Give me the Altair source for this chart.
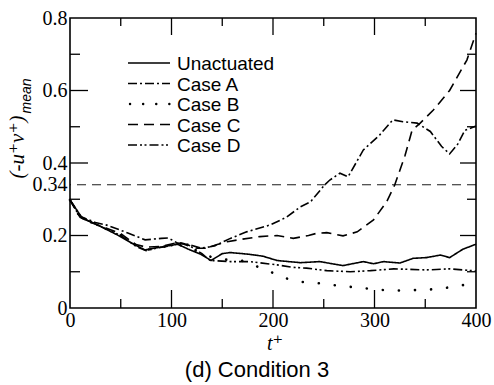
import altair as alt
import pandas as pd

# ---------------- data ----------------
t_unact = [0, 11, 21, 31, 47, 64, 74, 83, 96, 106, 116, 129, 139, 150, 158, 177, 190, 204, 227, 246, 269, 289, 299, 309, 325, 338, 351, 365, 374, 387, 400]
v_unact = [0.298, 0.252, 0.236, 0.224, 0.201, 0.174, 0.160, 0.165, 0.171, 0.176, 0.163, 0.148, 0.131, 0.150, 0.153, 0.148, 0.143, 0.131, 0.125, 0.128, 0.117, 0.128, 0.122, 0.128, 0.124, 0.137, 0.139, 0.146, 0.139, 0.162, 0.176]

t_a = [0, 11, 25, 37, 57, 74, 90, 97, 106, 116, 129, 138, 143, 158, 174, 197, 213, 227, 237, 251, 256, 266, 274, 289, 305, 318, 328, 342, 355, 366, 374, 382, 389, 400]
v_a = [0.298, 0.252, 0.236, 0.228, 0.207, 0.188, 0.192, 0.193, 0.179, 0.176, 0.165, 0.169, 0.172, 0.192, 0.210, 0.229, 0.250, 0.279, 0.293, 0.340, 0.353, 0.372, 0.362, 0.436, 0.477, 0.519, 0.514, 0.510, 0.487, 0.446, 0.425, 0.452, 0.490, 0.502]

t_b = [0, 10, 30, 50, 70, 75, 90, 105, 115, 130, 140, 150, 168, 183, 199, 214, 232, 249, 265, 282, 299, 316, 333, 350, 367, 384, 395]
v_b = [0.298, 0.250, 0.225, 0.200, 0.165, 0.160, 0.168, 0.175, 0.170, 0.150, 0.140, 0.134, 0.132, 0.116, 0.098, 0.081, 0.070, 0.068, 0.061, 0.057, 0.052, 0.048, 0.049, 0.050, 0.054, 0.062, 0.066]

t_c = [0, 10, 30, 50, 65, 75, 90, 105, 112, 125, 135, 145, 155, 170, 187, 204, 220, 235, 243, 253, 269, 283, 299, 312, 320, 330, 337, 345, 358, 374, 391, 400]
v_c = [0.298, 0.250, 0.226, 0.205, 0.175, 0.168, 0.170, 0.180, 0.178, 0.165, 0.165, 0.175, 0.183, 0.190, 0.197, 0.200, 0.192, 0.200, 0.206, 0.208, 0.199, 0.210, 0.243, 0.293, 0.340, 0.420, 0.490, 0.510, 0.546, 0.600, 0.684, 0.758]

t_d = [0, 10, 30, 50, 65, 75, 85, 100, 108, 120, 130, 138, 158, 177, 204, 220, 233, 253, 276, 296, 319, 351, 374, 400]
v_d = [0.298, 0.250, 0.225, 0.200, 0.170, 0.158, 0.165, 0.172, 0.180, 0.168, 0.150, 0.131, 0.128, 0.128, 0.119, 0.112, 0.110, 0.103, 0.100, 0.103, 0.108, 0.105, 0.108, 0.102]

series_names = ["Unactuated", "Case A", "Case B", "Case C", "Case D"]
ref_value = [0.34]

x_label_values = [0, 100, 200, 300, 400]
y_label_values = [0, 0.2, 0.34, 0.4, 0.6, 0.8]
x_long_ticks = [100, 200, 300]
x_short_ticks = [50, 150, 250, 350]
y_long_ticks = [0.2, 0.4, 0.6]
y_short_ticks = [0.1, 0.3, 0.5, 0.7]

# ---------------- build tables ----------------
rows = []
for name, ts, vs in [("Unactuated", t_unact, v_unact), ("Case A", t_a, v_a),
                     ("Case B", t_b, v_b), ("Case C", t_c, v_c), ("Case D", t_d, v_d)]:
    for t, v in zip(ts, vs):
        rows.append({"series": name, "t": t, "v": v})
df = pd.DataFrame(rows)

dashes = {
    "Unactuated": [1, 0],
    "Case A": [9, 3, 2, 3],
    "Case B": [0.1, 16],
    "Case C": [10, 6],
    "Case D": [9, 3, 2, 2.5, 2, 3],
}

W, H = 406, 290
XMAX, YMAX = 400, 0.8
xs = alt.Scale(domain=[0, XMAX], nice=False, zero=False)
ys = alt.Scale(domain=[0, YMAX], nice=False, zero=False)

serif = "Liberation Serif, Times New Roman, DejaVu Serif, serif"
sans = "Liberation Sans, Arial, sans-serif"

base_x = alt.X("t:Q", scale=xs,
               axis=alt.Axis(values=x_label_values, format="d", domain=False, ticks=False, grid=False,
                             labelFont=serif, labelFontSize=20, labelColor="black", labelPadding=2,
                             labelFlush=False, labelOverlap=False, title=None))
base_y = alt.Y("v:Q", scale=ys,
               axis=alt.Axis(values=y_label_values, domain=False, ticks=False, grid=False,
                             labelFont=serif, labelFontSize=20, labelColor="black", labelPadding=3,
                             labelFlush=False, labelOverlap=False,
                             labelExpr="datum.value == 0 ? '0' : format(datum.value, '.2~f')",
                             title=None))

layers = []
for name in series_names:
    sub = df[df.series == name]
    if name == "Case B":
        m = alt.Chart(sub).mark_line(color="black", strokeWidth=2.6, strokeDash=dashes[name], strokeCap="round")
    else:
        m = alt.Chart(sub).mark_line(color="black", strokeWidth=1.6, strokeDash=dashes[name])
    layers.append(m.encode(x=base_x, y=base_y, order="t:Q"))

ref = alt.Chart(pd.DataFrame({"v": ref_value})).mark_rule(
    color="black", strokeWidth=0.9, strokeDash=[9, 6]).encode(y=alt.Y("v:Q", scale=ys))
layers.append(ref)

# inward ticks (lengths given in pixels, converted to data units)
def px_x(p):
    return p * XMAX / W

def px_y(p):
    return p * YMAX / H

def xt(vals, length, top):
    d = pd.DataFrame({"t": vals})
    if top:
        y0, y1 = YMAX, YMAX - px_y(length)
    else:
        y0, y1 = 0, px_y(length)
    return alt.Chart(d).mark_rule(color="black", strokeWidth=1.3).encode(
        x=alt.X("t:Q", scale=xs), y=alt.datum(y0), y2=alt.datum(y1))

def yt(vals, length, right):
    d = pd.DataFrame({"v": vals})
    if right:
        x0, x1 = XMAX, XMAX - px_x(length)
    else:
        x0, x1 = 0, px_x(length)
    return alt.Chart(d).mark_rule(color="black", strokeWidth=1.3).encode(
        y=alt.Y("v:Q", scale=ys), x=alt.datum(x0), x2=alt.datum(x1))

layers += [xt(x_long_ticks, 18, False), xt(x_short_ticks, 9, False),
           xt(x_long_ticks, 17, True), xt(x_short_ticks, 8, True),
           yt(y_long_ticks, 18, False), yt(y_short_ticks, 10, False),
           yt(y_long_ticks, 16, True), yt(y_short_ticks, 9, True)]

# legend (manual)
for i, name in enumerate(series_names):
    yy = 45 + 20.5 * i
    one = pd.DataFrame({"series": [name]})
    if name == "Case B":
        ln = alt.Chart(one).mark_rule(color="black", strokeWidth=2.4, strokeDash=[0.1, 13],
                                      strokeCap="round", strokeDashOffset=-2)
    else:
        ln = alt.Chart(one).mark_rule(color="black", strokeWidth=1.5, strokeDash=dashes[name])
    layers.append(ln.encode(x=alt.value(58), x2=alt.value(100), y=alt.value(yy)))
    layers.append(alt.Chart(one).mark_text(align="left", baseline="middle", font=sans, fontSize=19,
                                           color="black").encode(
        x=alt.value(107), y=alt.value(yy + 1), text="series:N"))

# axis titles and caption
lbl = pd.DataFrame({"txt": ["(-u\u207av\u207a)"]})
layers.append(alt.Chart(lbl).mark_text(angle=270, font=serif, fontStyle="italic", fontSize=21,
                                       align="center", baseline="middle", color="black").encode(
    x=alt.value(-52), y=alt.value(129), text="txt:N"))
sub_lbl = pd.DataFrame({"txt": ["mean"]})
layers.append(alt.Chart(sub_lbl).mark_text(angle=270, font=sans, fontStyle="italic", fontSize=14,
                                           align="center", baseline="middle", color="black").encode(
    x=alt.value(-43), y=alt.value(78), text="txt:N"))
xt_lbl = pd.DataFrame({"txt": ["t\u207a"]})
layers.append(alt.Chart(xt_lbl).mark_text(font=serif, fontStyle="italic", fontSize=20,
                                          align="center", baseline="middle", color="black").encode(
    x=alt.value(205), y=alt.value(326), text="txt:N"))
cap = pd.DataFrame({"txt": ["(d) Condition 3"]})
layers.append(alt.Chart(cap).mark_text(font=sans, fontSize=22, align="center", baseline="middle",
                                       color="black").encode(
    x=alt.value(187), y=alt.value(352), text="txt:N"))

chart = alt.layer(*layers).properties(
    width=W, height=H,
    autosize=alt.AutoSizeParams(type="none"),
    padding={"left": 70, "top": 18, "right": 18, "bottom": 77},
    background="white",
).configure_view(stroke="black", strokeWidth=1.6)

chart.save("out.html", embed_options={"renderer": "svg", "actions": False})
